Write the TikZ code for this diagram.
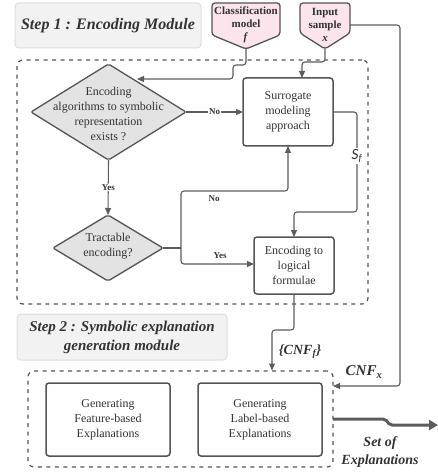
\documentclass[tikz,border=0pt]{standalone}
\usepackage{fontspec}
\setmainfont{Liberation Serif}
\newfontfamily\latof{Lato}
\usetikzlibrary{shapes.geometric,arrows.meta,calc}
\definecolor{ln}{HTML}{5C5C5C}
\definecolor{bd}{HTML}{555555}
\definecolor{pinkf}{HTML}{FBE4EC}
\definecolor{dfill}{HTML}{E3E3E3}
\definecolor{stepf}{HTML}{F2F2F2}
\definecolor{stepd}{HTML}{DDDDDD}
\definecolor{txt}{HTML}{333333}
\tikzset{
 conn/.style={draw=ln, line width=1.1pt, rounded corners=3pt},
 arr/.style={conn, -{Triangle[length=7pt,width=6pt]}},
 box/.style={draw=bd, line width=1.5pt, rounded corners=3pt, fill=white, align=center,
   font=\fontsize{12}{15}\selectfont, text=txt, inner sep=0pt, outer sep=0pt},
 dia/.style={diamond, draw=bd, line width=1.3pt, fill=dfill, inner sep=0pt, outer sep=0pt, rounded corners=2pt},
 dtext/.style={align=center, font=\fontsize{12}{15}\selectfont, text=txt},
 stepbox/.style={draw=stepd, fill=stepf, rounded corners=4pt, line width=1pt, align=center,
   font=\fontsize{16}{19}\selectfont\bfseries\itshape, text=txt},
 dbox/.style={draw=bd, line width=1.2pt, dash pattern=on 4pt off 4.5pt, rounded corners=6pt, inner sep=0pt, outer sep=0pt},
 lbl/.style={font=\fontsize{9}{10}\selectfont\bfseries, text=txt, inner sep=1pt},
 pent/.style={draw=bd, line width=1.3pt, fill=pinkf, rounded corners=3pt},
 penttxt/.style={align=center, font=\fontsize{11}{13}\selectfont\bfseries, text=txt},
 big/.style={font=\fontsize{14}{18}\selectfont\bfseries\itshape, text=txt, align=center},
}
\begin{document}
\begin{tikzpicture}[x=1pt,y=-1pt]
\useasboundingbox (0,0) rectangle (438,473);
% step titles
\node[stepbox, minimum width=186pt, minimum height=45pt] (step1) at (108,25.5) {Step 1 : Encoding Module};
\node[stepbox, minimum width=210pt, minimum height=46pt, font=\fontsize{15}{19}\selectfont\bfseries\itshape] (step2) at (122,337) {Step 2 : Symbolic explanation\\generation module};
% dashed modules
\node[dbox, minimum width=351pt, minimum height=244pt] (m1) at (192.5,182) {};
\node[dbox, minimum width=305pt, minimum height=96pt] (m2) at (180.5,419) {};
% input pentagons
\draw[pent] (212,3) -- (280,3) -- (280,35) -- (246,49) -- (212,35) -- cycle;
\node[penttxt] (clf) at (246,25) {Classification\\model\\\textit{f}};
\coordinate (clftip) at (246,49);
\draw[pent] (300,3) -- (350,3) -- (350,33) -- (325,49) -- (300,33) -- cycle;
\node[penttxt] (inp) at (325,25) {Input\\sample\\\textit{x}};
\coordinate (inptip) at (325,49);
\coordinate (inpR) at (350,25);
% decisions
\node[dia, minimum width=155pt, minimum height=96pt] (d1) at (108.5,112) {};
\node[dtext] (d1t) at (108.5,114) {Encoding\\algorithms to symbolic\\representation\\exists ?};
\node[dia, minimum width=110pt, minimum height=66pt] (d2) at (108,248) {};
\node[dtext] (d2t) at (108,246) {Tractable\\encoding?};
% process boxes
\node[box, minimum width=90pt, minimum height=68pt] (sur) at (288,112) {Surrogate\\modeling\\approach};
\node[box, minimum width=80pt, minimum height=57pt] (enc) at (294,265.5) {Encoding to\\logical\\formulae};
\node[box, minimum width=124pt, minimum height=73pt] (feat) at (108,419.5) {Generating\\Feature-based\\Explanations};
\node[box, minimum width=124pt, minimum height=73pt] (lab) at (260,419.5) {Generating\\Label-based\\Explanations};
% connectors
\coordinate (d1in) at (137,79);
\draw[arr] (clftip) -- (246,65) -- (233,65) -- (233,79) -- (d1in);
\draw[arr] (inptip) -- (325,62) -- (302,62) -- (302,78);
\coordinate (r386) at (400,386);
\draw[arr] (inpR) -| (r386) -- (m2.east |- r386);
\draw[arr] (d1.east) -- node[lbl, fill=white] {No} (sur.west);
\draw[arr] (d1.south) -- node[lbl, fill=white] {Yes} (d2.north);
\coordinate (sfc) at (357,156);
\draw[arr] (sur.east) -- (357,112) -- (357,212) -- (294,212) -- (enc.north);
\node[fill=white, inner sep=1pt, text=txt, font=\fontsize{14}{15}\latof\itshape] (sf) at (sfc) {S\textsubscript{f}};
\coordinate (br) at (181,248);
\draw[conn] (d2.east) -- (br);
\draw[arr] (br) -- (181,191) -- (288,191) -- (sur.south);
\draw[arr] (br) -- (181,264) -- (254,264);
\node[lbl] (no2) at (214,199) {No};
\node[lbl] (yes2) at (220,256) {Yes};
\draw[arr] (enc.south) -- (294,330) -- (272,330) -- (272,370.5);
\node[big] (cnff) at (300,352) {\{CNF\textsubscript{\textit{f}}\}};
\node[big, font=\fontsize{15}{18}\selectfont\bfseries\itshape] (cnfx) at (364,372) {CNF\textsubscript{\textit{x}}};
\coordinate (outend) at (438,425);
\draw[draw=ln, line width=3pt, rounded corners=2pt, -{Triangle[length=9pt,width=10pt]}] (m2.east) -- (385,419) -- (390,425) -- (outend);
\node[big] (soe) at (380,452) {Set of\\Explanations};
\end{tikzpicture}
\end{document}
